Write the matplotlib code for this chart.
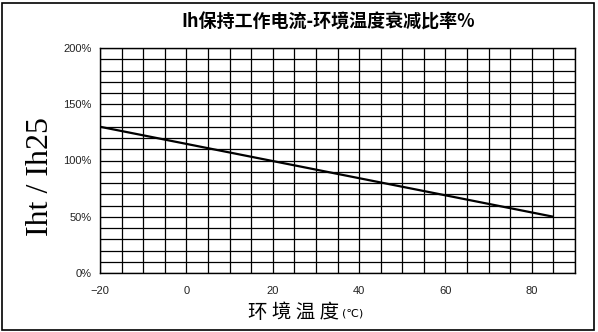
import matplotlib
matplotlib.use("Agg")
import matplotlib.pyplot as plt  # noqa: E402
from matplotlib.patches import Rectangle  # noqa: E402
from matplotlib.ticker import FuncFormatter, MultipleLocator  # noqa: E402

# derating curve: ambient temperature (C) vs Iht/Ih25 (%)
temp_c = [-20, 85]
ratio_pct = [130, 50]

x_ticks = [-20, 0, 20, 40, 60, 80]
y_ticks = [0, 50, 100, 150, 200]

CJK = ["Noto Sans CJK SC", "DejaVu Sans"]

fig = plt.figure(figsize=(5.98, 3.32), dpi=100)
fig.patch.set_facecolor("white")
ax = fig.add_axes([100 / 598, 59 / 332, 475 / 598, 225 / 332])

ax.plot(temp_c, ratio_pct, color="black", linewidth=1.6, solid_capstyle="butt")

ax.set_xlim(-20, 90)
ax.set_ylim(0, 200)
ax.xaxis.set_minor_locator(MultipleLocator(5))
ax.yaxis.set_minor_locator(MultipleLocator(10))
ax.set_xticks(x_ticks)
ax.set_yticks(y_ticks)
ax.yaxis.set_major_formatter(FuncFormatter(lambda v, _: f"{v:.0f}%"))
ax.grid(which="both", color="black", linewidth=0.9)
ax.set_axisbelow(True)
ax.tick_params(which="both", length=0, labelsize=8, labelcolor="#222")
ax.tick_params(axis="x", pad=9)
ax.tick_params(axis="y", pad=6)
for tl in ax.get_xticklabels() + ax.get_yticklabels():
    tl.set_fontfamily("Liberation Sans")
for sp in ax.spines.values():
    sp.set_color("black")
    sp.set_linewidth(1.0)

# spaced-out CJK title like the original bitmap font
fig.text(328 / 598, 1 - 22 / 332, "Ih保持工作电流-环境温度衰减比率%", ha="center", va="center",
         fontsize=13, fontweight="bold", family=CJK, fontstretch="expanded")
fig.text(40 / 598, 1 - 176 / 332, "Iht / Ih25", rotation=90, ha="center", va="center",
         fontsize=23, family="Liberation Serif")
fig.text(294 / 598, 1 - 313 / 332, "环 境 温 度", ha="center", va="center",
         fontsize=14, family=CJK)
fig.text(342 / 598, 1 - 314 / 332, "(℃)", ha="left", va="center",
         fontsize=8, family="DejaVu Sans")

fig.add_artist(Rectangle((2 / 598, 2 / 332), 592 / 598, 327 / 332, transform=fig.transFigure,
                         fill=False, edgecolor="black", linewidth=1.2))

fig.savefig("out.png", dpi=100)
plt.close(fig)
